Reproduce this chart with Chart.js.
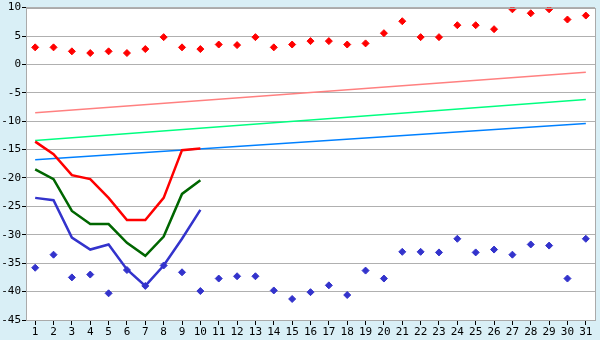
<!DOCTYPE html>
<html>
<head>
<meta charset="utf-8">
<script src="https://cdn.jsdelivr.net/npm/chart.js@4"></script>
<style>
  html, body { margin: 0; padding: 0; background: #d9eff6; }
  #wrap { width: 600px; height: 340px; }
</style>
</head>
<body>
<div id="wrap"><canvas id="chart" width="600" height="340"></canvas></div>
<script>
// categories (days)
const days = [];
for (let d = 1; d <= 31; d++) days.push(String(d));

// daily max / min (diamonds)
const maxVals = [3.0, 3.0, 2.3, 2.0, 2.3, 2.0, 2.7, 4.8, 3.0, 2.7, 3.5, 3.4, 4.8, 3.0, 3.5, 4.1,
  4.1, 3.5, 3.7, 5.5, 7.6, 4.8, 4.8, 6.9, 6.9, 6.2, 9.7, 9.0, 9.7, 7.9, 8.6];
const minVals = [-35.8, -33.5, -37.5, -37.0, -40.3, -36.2, -39.0, -35.4, -36.6, -39.9, -37.7, -37.3,
  -37.3, -39.8, -41.3, -40.1, -38.9, -40.6, -36.3, -37.7, -33.0, -33.0, -33.1, -30.7, -33.1, -32.6,
  -33.5, -31.7, -31.9, -37.7, -30.7];

// thick lines, days 1-10
const redLine = [-13.6, -15.8, -19.5, -20.2, -23.5, -27.4, -27.4, -23.5, -15.1, -14.8];
const greenLine = [-18.5, -20.2, -25.8, -28.1, -28.1, -31.4, -33.7, -30.3, -22.8, -20.4];
const blueLine = [-23.5, -23.9, -30.5, -32.6, -31.7, -36.1, -39.0, -35.4, -30.7, -25.6];

// straight reference lines: value on day 1 and day 31
const pinkEnds = [-8.5, -1.4];
const mintEnds = [-13.4, -6.2];
const skyEnds = [-16.8, -10.4];

function ends(pair) {
  const arr = days.map(() => null);
  arr[0] = pair[0];
  arr[arr.length - 1] = pair[1];
  return arr;
}

const bgPlugin = {
  id: "bgPlugin",
  beforeDraw: (chart) => {
    const ctx = chart.ctx;
    const a = chart.chartArea;
    ctx.save();
    ctx.fillStyle = "#d9eff6";
    ctx.fillRect(0, 0, chart.width, chart.height);
    ctx.fillStyle = "#ffffff";
    ctx.fillRect(a.left, a.top, a.right - a.left, a.bottom - a.top);
    ctx.restore();
  },
  afterDraw: (chart) => {
    const ctx = chart.ctx;
    const a = chart.chartArea;
    ctx.save();
    ctx.strokeStyle = "#aaaaaa";
    ctx.lineWidth = 1;
    ctx.strokeRect(Math.round(a.left) + 0.5, Math.round(a.top) + 0.5,
      Math.round(a.right - a.left), Math.round(a.bottom - a.top));
    ctx.restore();
  },
};

const diamond = (data, color) => ({
  data: data,
  showLine: false,
  pointStyle: "rectRot",
  pointRadius: 3.5,
  pointBackgroundColor: color,
  pointBorderColor: color,
  borderColor: color,
});

const thick = (data, color) => ({
  data: data,
  borderColor: color,
  borderWidth: 2.5,
  pointRadius: 0,
  tension: 0,
});

const straight = (pair, color) => ({
  data: ends(pair),
  borderColor: color,
  borderWidth: 1.5,
  pointRadius: 0,
  spanGaps: true,
});

new Chart(document.getElementById("chart").getContext("2d"), {
  type: "line",
  data: {
    labels: days,
    datasets: [
      diamond(maxVals, "#ff0000"),
      diamond(minVals, "#3333cc"),
      thick(redLine, "#ff0000"),
      thick(greenLine, "#006600"),
      thick(blueLine, "#3333cc"),
      straight(pinkEnds, "#ff8080"),
      straight(mintEnds, "#00ff80"),
      straight(skyEnds, "#0080ff"),
    ],
  },
  plugins: [bgPlugin],
  options: {
    responsive: false,
    animation: false,
    layout: { padding: { top: 5, right: 5, left: 0, bottom: 0 } },
    plugins: { legend: { display: false }, tooltip: { enabled: false } },
    scales: {
      x: {
        offset: true,
        grid: {
          drawOnChartArea: false,
          drawTicks: true,
          tickLength: 5,
          tickColor: "#000000",
        },
        border: { color: "#888888" },
        ticks: {
          color: "#000000",
          font: { family: "DejaVu Sans Mono", size: 11 },
          padding: 1,
          maxRotation: 0,
          autoSkip: false,
        },
        afterFit: (s) => { s.height = 20; },
      },
      y: {
        min: -45,
        max: 10,
        grid: {
          color: "#b0b0b0",
          tickLength: 4,
          tickColor: "#000000",
        },
        border: { color: "#aaaaaa" },
        ticks: {
          stepSize: 5,
          color: "#000000",
          font: { family: "DejaVu Sans Mono", size: 11 },
          padding: 1,
        },
        afterFit: (s) => { s.width = 26; },
      },
    },
  },
});
</script>
</body>
</html>
